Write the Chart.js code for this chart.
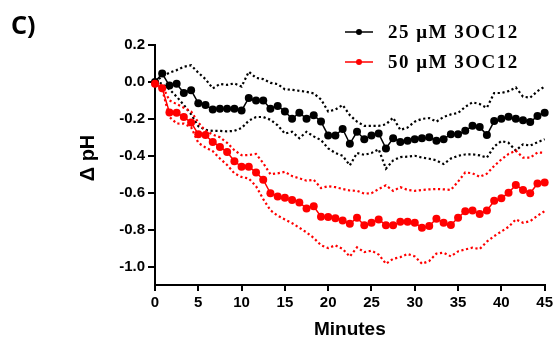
<!DOCTYPE html>
<html>
<head>
<meta charset="utf-8">
<script src="https://cdn.jsdelivr.net/npm/chart.js@4.4.1/dist/chart.umd.min.js"></script>
<style>
  html, body { margin: 0; padding: 0; background: #fff; }
  #wrap { width: 556px; height: 344px; position: relative; }
</style>
</head>
<body>
<div id="wrap"><canvas id="chart-ph" width="556" height="344"></canvas></div>
<script>
// time points (minutes)
const minutes = [0, 0.83, 1.67, 2.5, 3.33, 4.17, 5, 5.83, 6.67, 7.5, 8.33, 9.17,
    10, 10.83, 11.67, 12.5, 13.33, 14.17, 15, 15.83, 16.67, 17.5, 18.33, 19.17,
    20, 20.83, 21.67, 22.5, 23.33, 24.17, 25, 25.83, 26.67, 27.5, 28.33, 29.17,
    30, 30.83, 31.67, 32.5, 33.33, 34.17, 35, 35.83, 36.67, 37.5, 38.33, 39.17,
    40, 40.83, 41.67, 42.5, 43.33, 44.17, 45];

// 25 uM 3OC12 (black): mean and the dotted band
const mean25 = [0, 0.045, -0.02, -0.01, -0.06, -0.045, -0.115, -0.125, -0.15, -0.145, -0.145, -0.145,
    -0.155, -0.087, -0.10, -0.10, -0.145, -0.13, -0.16, -0.20, -0.167, -0.20, -0.18, -0.215,
    -0.29, -0.29, -0.255, -0.335, -0.27, -0.31, -0.29, -0.28, -0.36, -0.305, -0.325, -0.318,
    -0.31, -0.305, -0.30, -0.318, -0.31, -0.283, -0.283, -0.265, -0.238, -0.244, -0.288, -0.212,
    -0.20, -0.188, -0.20, -0.208, -0.217, -0.185, -0.167];
const upper25 = [0, 0.03, 0.05, 0.064, 0.082, 0.09, 0.05, 0.015, -0.035, -0.011, -0.016, -0.008,
    -0.025, 0.055, 0.022, 0.015, -0.005, -0.012, -0.04, -0.043, -0.048, -0.054, -0.062, -0.095,
    -0.16, -0.15, -0.125, -0.18, -0.215, -0.238, -0.238, -0.238, -0.23, -0.194, -0.26, -0.247,
    -0.215, -0.2, -0.196, -0.215, -0.19, -0.176, -0.168, -0.135, -0.11, -0.12, -0.14, -0.06,
    -0.06, -0.05, -0.03, -0.08, -0.085, -0.05, -0.025];
const lower25 = [0, -0.01, -0.04, -0.08, -0.125, -0.175, -0.24, -0.26, -0.265, -0.265, -0.268, -0.265,
    -0.25, -0.21, -0.19, -0.19, -0.205, -0.235, -0.28, -0.27, -0.305, -0.27, -0.295, -0.315,
    -0.36, -0.385, -0.40, -0.452, -0.385, -0.395, -0.385, -0.365, -0.47, -0.425, -0.407, -0.405,
    -0.40, -0.41, -0.416, -0.425, -0.445, -0.415, -0.40, -0.393, -0.392, -0.398, -0.41, -0.35,
    -0.32, -0.33, -0.372, -0.338, -0.345, -0.327, -0.31];

// 50 uM 3OC12 (red)
const mean50 = [-0.01, -0.034, -0.165, -0.167, -0.19, -0.22, -0.283, -0.288, -0.325, -0.352, -0.38, -0.43,
    -0.46, -0.46, -0.49, -0.53, -0.603, -0.62, -0.628, -0.64, -0.653, -0.685, -0.674, -0.73,
    -0.732, -0.738, -0.75, -0.768, -0.736, -0.777, -0.763, -0.745, -0.777, -0.777, -0.757, -0.757,
    -0.763, -0.79, -0.78, -0.741, -0.763, -0.775, -0.736, -0.70, -0.697, -0.715, -0.697, -0.644,
    -0.63, -0.60, -0.558, -0.585, -0.603, -0.55, -0.545];
const upper50 = [-0.01, -0.02, -0.10, -0.12, -0.14, -0.16, -0.22, -0.265, -0.285, -0.30, -0.33, -0.37,
    -0.397, -0.396, -0.39, -0.44, -0.50, -0.495, -0.487, -0.51, -0.522, -0.535, -0.53, -0.575,
    -0.565, -0.57, -0.58, -0.588, -0.59, -0.605, -0.603, -0.58, -0.56, -0.59, -0.57, -0.585,
    -0.59, -0.585, -0.582, -0.58, -0.582, -0.585, -0.54, -0.49, -0.495, -0.514, -0.497, -0.455,
    -0.42, -0.39, -0.372, -0.41, -0.41, -0.382, -0.384];
const lower50 = [-0.01, -0.04, -0.19, -0.225, -0.226, -0.245, -0.33, -0.355, -0.375, -0.415, -0.45, -0.495,
    -0.515, -0.523, -0.565, -0.635, -0.695, -0.725, -0.745, -0.765, -0.79, -0.815, -0.845, -0.885,
    -0.90, -0.885, -0.905, -0.946, -0.896, -0.922, -0.914, -0.935, -0.985, -0.958, -0.949, -0.932,
    -0.945, -0.985, -0.97, -0.93, -0.925, -0.945, -0.918, -0.907, -0.898, -0.905, -0.865, -0.835,
    -0.81, -0.785, -0.745, -0.763, -0.754, -0.725, -0.70];

const yTicks = [0.2, 0.0, -0.2, -0.4, -0.6, -0.8, -1.0];
const legendLabels = ['25 μM 3OC12', '50 μM 3OC12'];

const BLACK = '#000000';
const RED = '#ff0000';

function toPoints(values) {
    return minutes.map((m, i) => ({ x: m, y: values[i] }));
}

function meanSet(label, values, color, order) {
    return {
        label: label,
        data: toPoints(values),
        borderColor: color,
        backgroundColor: color,
        borderWidth: 1.5,
        pointRadius: 4,
        pointBorderWidth: 0,
        order: order,
        clip: false
    };
}

function bandSet(label, values, color, order) {
    return {
        label: label,
        data: toPoints(values),
        borderColor: color,
        borderWidth: 2.2,
        borderDash: [2.2, 2.6],
        pointRadius: 0,
        order: order,
        clip: false
    };
}

// panel letter, y title and the legend are drawn here
const extrasPlugin = {
    id: 'extras',
    afterDraw(chart) {
        const ctx = chart.ctx;
        ctx.save();
        ctx.fillStyle = BLACK;
        ctx.font = 'bold 25px "Noto Sans"';
        ctx.textAlign = 'left';
        ctx.textBaseline = 'alphabetic';
        ctx.fillText('C)', 11, 34);

        ctx.save();
        ctx.translate(88, 158);
        ctx.rotate(-Math.PI / 2);
        ctx.font = 'bold 20px "Liberation Sans"';
        ctx.textAlign = 'center';
        ctx.textBaseline = 'middle';
        ctx.fillText('Δ pH', 0, 0);
        ctx.restore();

        [[BLACK, 32], [RED, 62]].forEach(([color, y], i) => {
            ctx.strokeStyle = color;
            ctx.fillStyle = color;
            ctx.lineWidth = 1.5;
            ctx.beginPath();
            ctx.moveTo(345, y);
            ctx.lineTo(373, y);
            ctx.stroke();
            ctx.beginPath();
            ctx.arc(359, y, 3, 0, Math.PI * 2);
            ctx.fill();

            ctx.fillStyle = BLACK;
            ctx.font = 'bold 19px "Liberation Serif"';
            ctx.letterSpacing = '1.5px';
            ctx.textBaseline = 'middle';
            ctx.fillText(legendLabels[i], 388, y + 1);
        });
        ctx.restore();
    }
};

const tickFont = { family: '"Liberation Sans"', weight: 'bold', size: 15 };

new Chart(document.getElementById('chart-ph'), {
    type: 'line',
    data: {
        datasets: [
            bandSet('25 upper', upper25, BLACK, 4),
            bandSet('25 lower', lower25, BLACK, 4),
            meanSet(legendLabels[0], mean25, BLACK, 3),
            bandSet('50 upper', upper50, RED, 2),
            bandSet('50 lower', lower50, RED, 2),
            meanSet(legendLabels[1], mean50, RED, 1)
        ]
    },
    options: {
        responsive: false,
        animation: false,
        devicePixelRatio: 1,
        layout: { padding: { left: 0, right: 11, top: 45, bottom: 0 } },
        plugins: { legend: { display: false }, tooltip: { enabled: false } },
        elements: { line: { tension: 0 } },
        scales: {
            x: {
                type: 'linear',
                min: 0,
                max: 45,
                grid: { drawOnChartArea: false, drawTicks: true, tickLength: 6, color: BLACK, lineWidth: 2 },
                border: { display: true, color: BLACK, width: 2 },
                ticks: { stepSize: 5, color: BLACK, font: tickFont, padding: 3, maxRotation: 0 },
                title: {
                    display: true,
                    text: 'Minutes',
                    color: BLACK,
                    font: { family: '"Liberation Sans"', weight: 'bold', size: 19 },
                    padding: { top: 0, bottom: 3 }
                },
                afterFit(scale) { scale.height = 59; }
            },
            y: {
                min: -1.1,
                max: 0.2,
                grid: { drawOnChartArea: false, drawTicks: true, tickLength: 7, color: BLACK, lineWidth: 2 },
                border: { display: true, color: BLACK, width: 2 },
                ticks: {
                    color: BLACK,
                    font: tickFont,
                    padding: 3,
                    callback: v => v.toFixed(1)
                },
                afterBuildTicks(scale) { scale.ticks = yTicks.map(v => ({ value: v })); },
                afterFit(scale) { scale.width = 155; }
            }
        }
    },
    plugins: [extrasPlugin]
});
</script>
</body>
</html>
